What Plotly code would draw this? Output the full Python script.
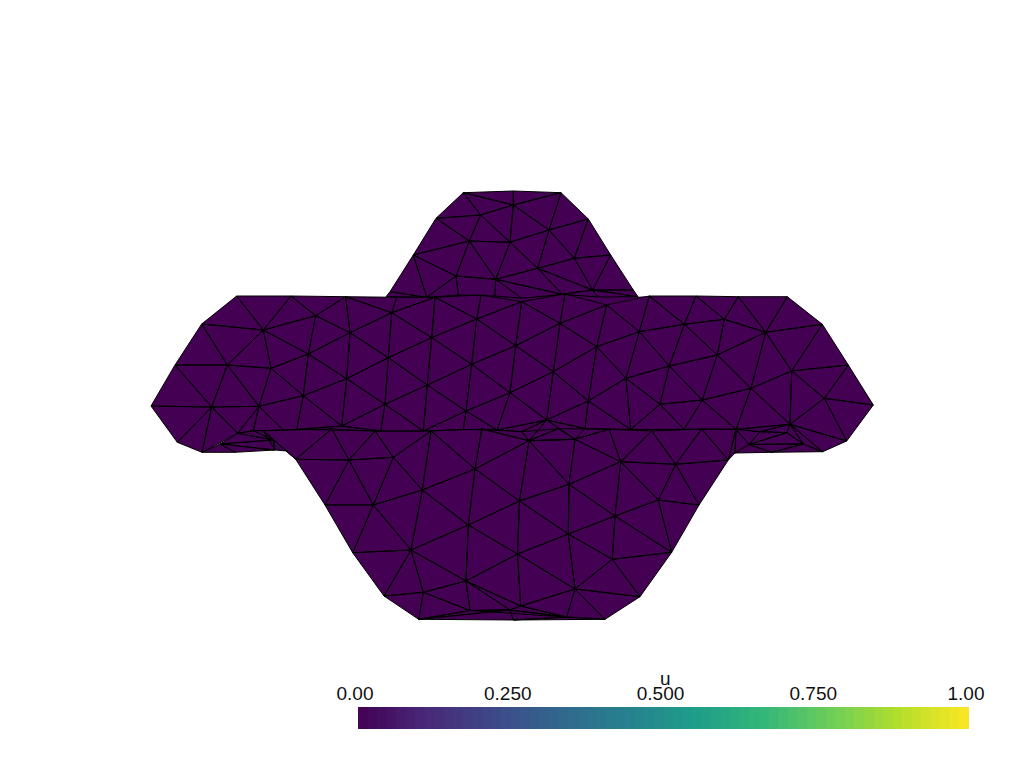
import plotly.graph_objects as go
from plotly.colors import sample_colorscale

# Mesh nodes: name, x, y in the view plane
vertex_name = [
 "A","B","C","E","F","G","H","I","J","K","L","N","O","P","Q","R","T","U","V",
 "W","L2","L3","L4","L5","L6","PB","Ls","U1","U2","S2",
 "b1","b2","b3","b4","b5","b6","b7","b8","b9","b10","b11","b12","b13","b14","b15","b16","b17","b18","b19","b20","b21","b22","b23","b24","b25","b26","b27",
 "c1","c2","c3","c4","c5","c6","c7","c8","c9","c10","c11","c12","c13","c14","c15","c16","c17","c18","c19","c20","c21","c22","c23","c24",
 "e1","e2","k2","g1","g2",
 "d1","d2","d3","d4","d5","d6","d7","d8","d9","d11","d12","d13","d14","d15","d16","d17","d18","d19","d20","d21","dx","dz",
 "R2","R3","R4","R6","R7","R8",
 "a","bb","cc","dd","ee","f","g","h","i","j","k","m","n","o","p","q","r","s","t","u","v1","v2","v3","v4","w",
 "x","y","z","aa","ab","ac","ad","ae","af","ag","ah","ai","aj","ak","al","am","an","ao","aq",
]
vertex_x = [
 236.7,291,345.7,201.7,263.3,315.7,350,175,227.3,271,308.3,151,211.7,259,346.7,303.3,341.7,177.3,202,
 237.7,220,273.3,275,235,286.7,253.3,263.3,296.7,283.3,380.7,
 463.3,513.3,561,436,480.7,513.3,588.3,549,469.3,510,413.3,610.7,574.3,456,495.7,537.7,592.7,633.3,426.7,458.3,495,521.7,562.3,390,386,638,598,
 396.7,435,481,521.7,565,606.7,391.7,476.7,431.7,515.7,560,596.7,639.3,388.3,471.7,553.3,626,427.3,510,588.3,385,466,546.7,423.3,
 463.3,497,521.7,585,630.7,
 649.3,696,738.3,787.3,822.3,848.3,873.3,846.7,822.7,684.3,724.3,765.7,669.3,717.3,791.7,824.3,660,702.3,751,790,684,736,
 760,786.7,749,803.3,771.7,735,
 295.7,331.7,349,375,393.3,431,325,373.3,422.3,475,481.7,352.7,411,468.3,519.5,384,423.3,466,517.5,418.7,470,510,513.3,566.7,520.7,
 529,575,569,620.7,609,651.7,701.7,675.7,728.3,658.3,699,615,568.3,671.7,612.3,575,640,605,558.3,
]
vertex_y = [
 296,296,296.7,324,330,315.7,332.7,365,365,368.3,354,406,407,406.3,378.7,395.7,426,442.3,452.3,
 433.3,444,440,450,452.3,451,430.7,430.7,429.3,430,431,
 192.7,191,192.7,218.3,215,205,219,230,241,242.3,255,255,258.3,276,279.3,268.3,290,290,297.3,295,296,298.3,294.3,291.7,296.7,296.7,297,
 297.3,297.3,295,301.7,294,305,312.7,319,337.7,345.7,323.3,346.7,331.7,357.7,364.3,371.7,378.3,385,392.7,401,404.3,411,420,431,
 429.5,430,431.7,428.5,429.5,
 296,296,296.7,296.7,324.3,365,405,441,451.7,324.3,319.3,332.3,366,355,371,398.3,404.3,400,388.3,424.3,429.3,429.3,
 431.7,432.7,444.5,444,452.3,453,
 459.3,429,460,431,457.3,431,505,505,490,469,429,552.7,550,525,501,596,592.3,581,554,619.3,610.5,610,620,617,606,
 440.7,439.3,484.3,461.7,429.3,431,429,464.3,460,500,505,516,534,552.3,559.3,589,596.7,619.3,428.7,
]
# Cells of the mesh
cells = [
 ("A","B","F"),("A","F","E"),("B","G","F"),("B","C","G"),("C","H","G"),("C","c7","H"),
 ("E","F","J"),("E","J","I"),("F","K","J"),("F","G","L"),("F","L","K"),("G","H","L"),("L","H","Q"),
 ("H","c7","c14"),("H","c14","Q"),("c14","Q","c21"),("K","L","R"),("L","Q","R"),("Q","R","T"),("Q","T","c21"),
 ("I","J","O"),("J","K","P"),("J","P","O"),("K","R","P"),("I","O","N"),("N","O","U"),("O","U","V"),
 ("O","V","W"),("V","L2","L5"),("L2","L5","L4"),("L2","L4","L3"),("L2","L3","W"),("O","W","P"),
 ("W","P","PB"),("W","PB","L3"),("PB","Ls","L3"),("Ls","L3","L4"),("Ls","L4","L6"),("Ls","L6","a"),("Ls","a","bb"),
 ("R","T","U1"),("T","U1","S2"),("R","U1","U2","P"),("P","U2","PB"),("T","c21","S2"),
 ("b1","b2","b6"),("b2","b3","b6"),("b1","b6","b5"),("b1","b5","b4"),("b3","b8","b6"),("b3","b7","b8"),
 ("b5","b6","b10"),("b6","b8","b10"),("b4","b5","b9"),("b5","b10","b9"),("b4","b9","b11"),("b9","b14","b11"),
 ("b9","b15","b14"),("b9","b10","b15"),("b10","b16","b15"),("b10","b8","b16"),("b8","b13","b16"),("b8","b7","b13"),
 ("b7","b12","b13"),("b13","b12","b17"),("b13","b17","b16"),("b12","b18","b17"),("b16","b17","b23"),
 ("b15","b16","b23"),("b15","b23","b22"),("b15","b22","b21"),("b14","b15","b21","b20"),
 ("b14","b20","b19"),("b11","b14","b19"),("b11","b19","b24"),("b24","b25","b19"),("b17","b18","b26"),("b17","b26","b27"),("b17","b27","b23"),
 ("C","c7","c1"),("c1","c7","c2"),("c7","c2","c9"),("c2","c8","c9"),("c2","c3","c8"),("c3","c4","c8"),("c8","c4","c10"),
 ("c4","c11","c10"),("c4","c5","c11"),("c5","c6","c11"),("c11","c6","c12"),("c6","c13","c12"),("c6","d1","c13"),
 ("c8","c10","c15"),("c8","c15","c9"),("c9","c15","c18"),("c15","c19","c22"),("c15","c10","c19"),("c15","c22","c18"),
 ("c7","c9","c14"),("c9","c18","c14"),("c14","c18","c21"),("c18","c22","c24"),("c18","c24","c21"),("c21","c24","S2"),
 ("c10","c11","c16"),("c11","c12","c16"),("c16","c12","c20"),("c12","c17","c20"),("c10","c16","c19"),("c16","c20","c23"),("c16","c19","c23"),
 ("c22","c24","e1"),("c22","e1","e2"),("c22","e2","c19"),("c19","c23","e2"),("e2","c23","k2"),("c23","c20","g1"),("c23","y","g1"),
 ("c23","k2","x"),("c23","x","y"),("c20","g1","g2"),("c17","c20","g2"),("c17","d18","g2"),
 ("d1","d11","c13"),("d1","d2","d11"),("d2","d12","d11"),("d2","d3","d12"),("d3","d13","d12"),("d3","d4","d13"),("d4","d5","d13"),
 ("d5","d16","d13"),("d5","d6","d16"),("d6","d17","d16"),("d6","d7","d17"),("d7","d8","d17"),("d8","d21","d17"),("d17","d21","d16"),
 ("d16","d21","d20"),("d16","d20","d13"),("d13","d20","d15"),("d13","d15","d12"),("d12","d15","d11"),("d11","d15","d14"),("d11","d14","c13"),
 ("c13","d14","c17"),("c13","c17","c12"),("d14","c17","d18"),("d14","d18","d19"),("d14","d19","d15"),("d15","d19","d20"),
 ("d18","dx","d19"),("d18","g2","dx"),("d19","dx","dz"),("d19","dz","d20"),("d20","d21","dz"),
 ("d21","dz","R2"),("d21","R2","R3"),("d21","R3","R6"),("d21","R6","d9"),("d21","d9","d8"),
 ("R2","R3","R4"),("R3","R4","R6"),("R4","R6","R7"),("R6","R7","d9"),("R4","R7","R8"),("R2","R4","dz"),("dz","R4","R8"),("dz","R8","af"),("ad","dz","af"),
 ("a","bb","cc"),("bb","cc","dd"),("cc","dd","ee"),("dd","ee","f"),("a","cc","g"),("cc","g","h"),("cc","h","ee"),("ee","h","i"),("ee","i","f"),
 ("f","i","j"),("f","j","k"),("h","n","i"),("g","h","m"),("h","m","n"),("i","n","o"),("i","o","j"),("j","o","p"),
 ("n","q","r"),("m","n","q"),("n","r","s"),("n","s","o"),("o","s","t"),("o","t","p"),("q","r","u"),
 ("r","u","v1"),("s","r","v1"),("u","v1","v2"),("u","v2","v3"),("v2","v3","v4"),("v1","v2","v4"),("s","v1","v2"),("s","v2","w"),("s","w","t"),
 ("w","v2","v4"),("w","am","v4"),("v3","v4","ao"),("v4","am","ao"),("t","w","am"),
 ("k","k2","x"),("k","x","j"),("k2","aq","x"),("aq","y","x"),("aq","ab","y"),("j","x","p"),("x","p","z"),("x","z","y"),
 ("y","z","aa"),("z","aa","ai"),("z","ai","aj"),("z","p","aj"),("p","aj","t"),("aj","t","am"),("aj","al","am"),("aj","ai","al"),
 ("ai","ag","ak"),("ai","ak","al"),("al","ak","an"),("al","am","an"),("am","an","ao"),("ai","aa","ag"),("aa","ae","ag"),("ag","ae","ah"),
 ("ae","ah","af"),("ak","ag","ah"),("aa","ac","ae"),("ae","ac","ad"),("ae","ad","af"),("aa","ab","ac"),("aa","y","ab"),
]
# Parts of the folded surface that lie behind the visible cells (fill only)
hidden_cells = [("b25","b26","c9"),("b25","b26","b15"),("b26","d1","c6"),("b27","b26","c6"),("b23","b27","c6"),("b23","c5","c6"),
                ("Ls","ad","c22"),("Ls","ad","j")]
# The field u on the mesh: zero on every node
node_u = [0.0] * len(vertex_name)

tick_values = [0, 0.25, 0.5, 0.75, 1]
tick_labels = ["0.00", "0.250", "0.500", "0.750", "1.00"]
colorbar_title = "u"
colorbar_steps = 64

pos = {n: (x, y) for n, x, y in zip(vertex_name, vertex_x, vertex_y)}


def polygons(cell_list):
    px, py = [], []
    for cell in cell_list:
        pts = [pos[n] for n in cell]
        # consistent winding so overlapping folded cells never cancel out
        area = sum(p[0] * q[1] - q[0] * p[1] for p, q in zip(pts, pts[1:] + pts[:1]))
        if area < 0:
            pts.reverse()
        px += [p[0] for p in pts] + [pts[0][0], None]
        py += [p[1] for p in pts] + [pts[0][1], None]
    return px, py


face_color = sample_colorscale("Viridis", [sum(node_u) / len(node_u)])[0]

fig = go.Figure()
hx, hy = polygons(hidden_cells)
fig.add_trace(go.Scatter(x=hx, y=hy, mode="lines", fill="toself", fillcolor=face_color,
                         line=dict(color=face_color, width=0), hoverinfo="skip", showlegend=False))
fx, fy = polygons(cells)
fig.add_trace(go.Scatter(x=fx, y=fy, mode="lines", fill="toself", fillcolor=face_color,
                         line=dict(color="black", width=1), hoverinfo="skip", showlegend=False))

# Scalar bar
bar_pos = [(i + 0.5) / colorbar_steps for i in range(colorbar_steps)]
fig.add_trace(go.Heatmap(x=bar_pos, y=[0], z=[bar_pos], xaxis="x2", yaxis="y2", zmin=0, zmax=1,
                         colorscale="Viridis", showscale=False, hoverinfo="skip"))

label_font = dict(family="Liberation Sans", size=19, color="#111111")
fig.update_layout(
    width=1024, height=768, margin=dict(l=0, r=0, t=0, b=0, autoexpand=False),
    paper_bgcolor="white", plot_bgcolor="white", showlegend=False,
    xaxis=dict(range=[0, 1024], visible=False, fixedrange=True),
    yaxis=dict(range=[768, 0], visible=False, fixedrange=True),
    xaxis2=dict(domain=[358/1024, 969/1024], range=[0, 1], anchor="y2", side="top", fixedrange=True,
                tickmode="array", tickvals=tick_values, ticktext=tick_labels, ticks="",
                ticklabelshift=-3, ticklabelstandoff=2, tickfont=label_font, automargin=False,
                showgrid=False, zeroline=False, showline=False),
    yaxis2=dict(domain=[(768-729)/768, (768-707)/768], anchor="x2", visible=False, fixedrange=True),
    annotations=[dict(text=colorbar_title, xref="x2", yref="y2 domain", x=0.5, y=1, xshift=1.5, yshift=16,
                      yanchor="bottom", showarrow=False, font=label_font)],
)
fig.write_html("out.html", config={"displayModeBar": False},
               post_script="document.body.style.margin='0';")
